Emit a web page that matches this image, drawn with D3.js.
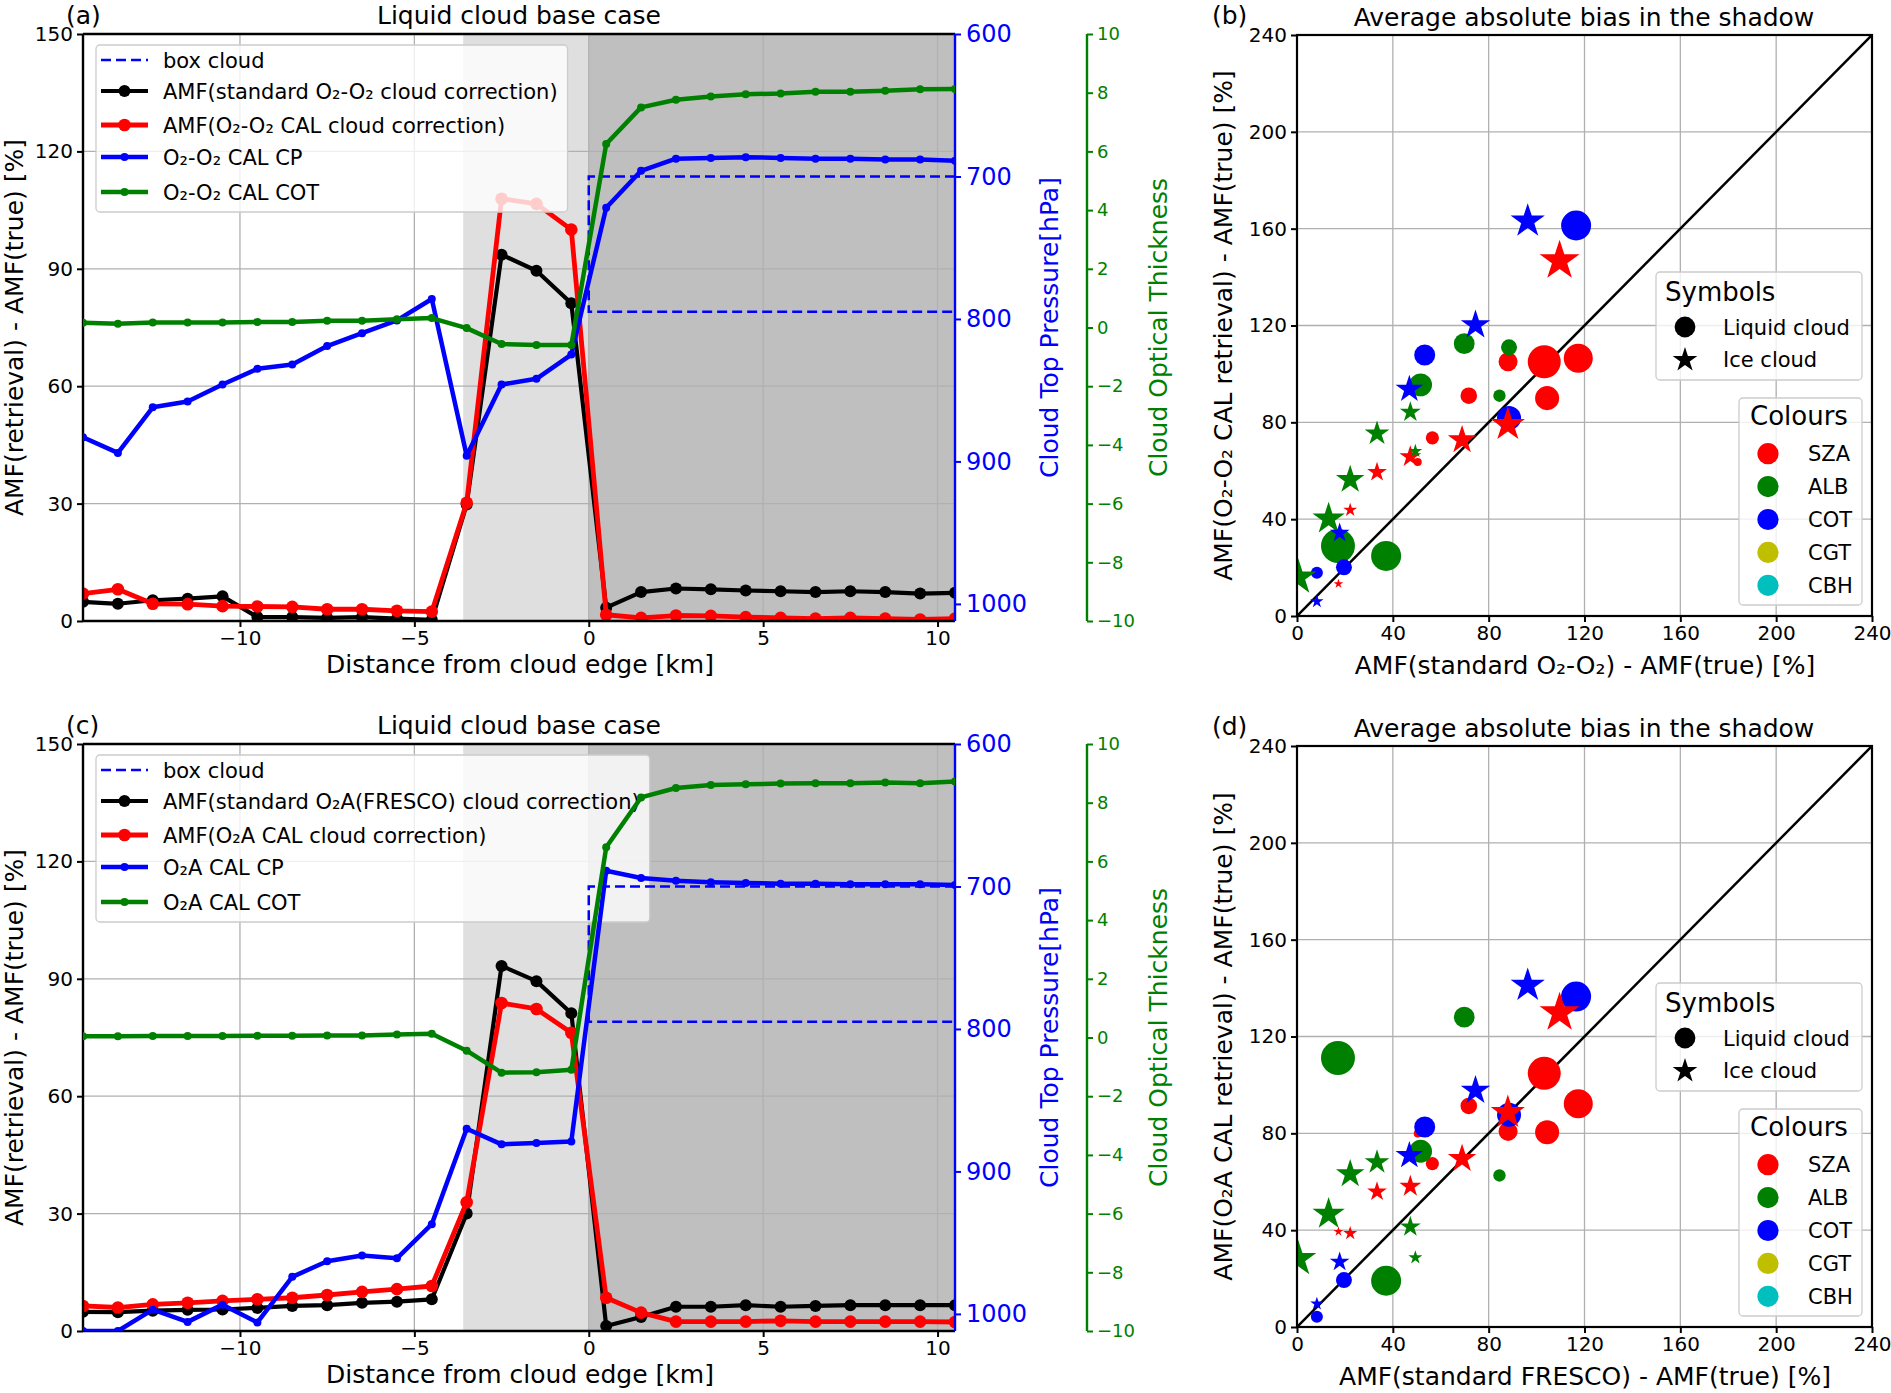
<!DOCTYPE html>
<html>
<head>
<meta charset="utf-8">
<script src="https://cdn.jsdelivr.net/npm/d3@7/dist/d3.min.js"></script>
<style>
  body { margin: 0; background: #fff; }
  text { font-family: "DejaVu Sans", sans-serif; }
</style>
</head>
<body>
<svg id="fig" width="1891" height="1393"></svg>
<script>
// ---------- profile panels (a) and (c) ----------
const dist = [-14.5, -13.5, -12.5, -11.5, -10.5, -9.5, -8.5, -7.5, -6.5, -5.5, -4.5, -3.5, -2.5,
  -1.5, -0.5, 0.5, 1.5, 2.5, 3.5, 4.5, 5.5, 6.5, 7.5, 8.5, 9.5, 10.5];

const shadeLight = [-3.6, 0];
const shadeDark = [0, 10.5];
const boxX = [0, 10.5];
const boxP = [700, 795];

// (a) O2-O2
const stdA = [4.9, 4.4, 5.3, 5.7, 6.3, 1.0, 1.0, 0.8, 1.0, 0.6, 0.3, 29.8, 93.6, 89.5, 81.2,
  3.4, 7.4, 8.3, 8.1, 7.8, 7.6, 7.4, 7.6, 7.4, 7.0, 7.2];
const calA = [7.0, 8.1, 4.4, 4.3, 3.8, 3.7, 3.6, 3.0, 3.0, 2.6, 2.4, 30.2, 107.9, 106.6, 100.0,
  1.6, 0.8, 1.4, 1.3, 1.0, 0.8, 0.6, 0.8, 0.6, 0.4, 0.6];
const cpA = [883, 894, 862, 858, 846, 835, 832, 819, 810, 801, 786, 896, 846, 842, 825,
  722, 696, 687.5, 687, 686.5, 687, 687.5, 687.5, 688, 688, 689];
const cotA = [0.16, 0.13, 0.17, 0.17, 0.17, 0.19, 0.19, 0.23, 0.23, 0.28, 0.32, -0.02, -0.56, -0.6, -0.6,
  6.25, 7.5, 7.76, 7.87, 7.95, 7.97, 8.03, 8.03, 8.07, 8.12, 8.13];

// (c) O2A
const stdC = [4.9, 4.8, 5.2, 5.4, 5.5, 5.9, 6.4, 6.6, 7.2, 7.5, 8.1, 30.0, 93.3, 89.4, 81.2,
  1.3, 3.6, 6.2, 6.2, 6.6, 6.2, 6.4, 6.6, 6.6, 6.6, 6.6];
const calC = [6.4, 6.0, 6.8, 7.2, 7.7, 8.1, 8.5, 9.2, 10.0, 10.7, 11.5, 32.9, 83.8, 82.3, 76.2,
  8.5, 4.7, 2.4, 2.4, 2.4, 2.6, 2.4, 2.4, 2.4, 2.4, 2.3];
const cpC = [1012, 1012, 997, 1005.6, 993.5, 1006, 974, 963, 959, 961, 937, 870, 881, 880, 879,
  689, 694, 696, 697, 697.5, 698, 698, 698.5, 698.5, 698.5, 699];
const cotC = [0.04, 0.04, 0.05, 0.05, 0.05, 0.06, 0.06, 0.07, 0.07, 0.1, 0.13, -0.45, -1.2, -1.18, -1.1,
  6.48, 8.18, 8.5, 8.6, 8.63, 8.65, 8.66, 8.66, 8.69, 8.66, 8.72];

const legendA = ["box cloud", "AMF(standard O₂-O₂ cloud correction)", "AMF(O₂-O₂ CAL cloud correction)",
  "O₂-O₂ CAL CP", "O₂-O₂ CAL COT"];
const legendC = ["box cloud", "AMF(standard O₂A(FRESCO) cloud correction)", "AMF(O₂A CAL cloud correction)",
  "O₂A CAL CP", "O₂A CAL COT"];

const amfTicks = [0, 30, 60, 90, 120, 150];
const distTicks = [-10, -5, 0, 5, 10];
const cpTicks = [600, 700, 800, 900, 1000];
const cotTicks = [10, 8, 6, 4, 2, 0, -2, -4, -6, -8, -10];

// ---------- scatter panels (b) and (d) ----------
// order: liquid (SZA, ALB, COT) then ice (SZA, ALB, COT)
const scatGroup = ["SZA", "SZA", "SZA", "SZA", "SZA", "SZA", "SZA",
  "ALB", "ALB", "ALB", "ALB", "ALB", "ALB",
  "COT", "COT", "COT", "COT", "COT",
  "SZA", "SZA", "SZA", "SZA", "SZA", "SZA", "SZA",
  "ALB", "ALB", "ALB", "ALB", "ALB", "ALB",
  "COT", "COT", "COT", "COT", "COT"];
const scatCloud = ["liquid", "liquid", "liquid", "liquid", "liquid", "liquid", "liquid",
  "liquid", "liquid", "liquid", "liquid", "liquid", "liquid",
  "liquid", "liquid", "liquid", "liquid", "liquid",
  "ice", "ice", "ice", "ice", "ice", "ice", "ice",
  "ice", "ice", "ice", "ice", "ice", "ice",
  "ice", "ice", "ice", "ice", "ice"];
const scatX = [103.2, 117.4, 88.1, 104.4, 71.7, 56.5, 50.4,
  69.8, 88.5, 51.6, 84.5, 17.1, 37.2,
  116.5, 53.3, 88.5, 19.6, 8.3,
  109.6, 88.0, 68.9, 47.3, 33.4, 22.2, 17.3,
  47.3, 33.4, 49.4, 22.2, 13.2, 0.5,
  96.3, 74.5, 46.9, 17.8, 8.3];
const scatYb = [105.0, 106.5, 105.0, 90.0, 91.0, 73.6, 63.6,
  112.5, 111.0, 95.5, 91.0, 28.9, 24.8,
  161.3, 107.8, 81.8, 20.1, 17.9,
  146.7, 79.1, 72.7, 65.8, 59.4, 43.8, 13.3,
  84.2, 75.4, 68.1, 56.3, 40.2, 16.0,
  163.1, 120.2, 93.7, 34.3, 6.0];
const scatYd = [104.8, 92.2, 80.8, 80.4, 91.3, 67.5, 79.9,
  128.0, 88.0, 72.6, 62.6, 111.1, 19.1,
  136.5, 82.6, 87.7, 19.4, 4.2,
  129.8, 88.6, 69.5, 58.1, 55.9, 38.7, 39.4,
  41.4, 68.1, 28.7, 63.2, 46.7, 28.1,
  141.1, 97.7, 70.8, 26.9, 9.6];
const scatSize = [6.17, 4.77, 2.05, 3.27, 1.56, 0.99, 0.36,
  2.45, 1.45, 2.95, 0.87, 6.55, 5.1,
  5.1, 2.5, 3.27, 1.45, 0.82,
  10, 7.35, 5.1, 3.0, 2.45, 1.21, 0.57,
  2.74, 3.83, 1.21, 5.1, 6.55, 8.19,
  7.35, 5.45, 4.77, 2.45, 1.11];

const colourNames = ["SZA", "ALB", "COT", "CGT", "CBH"];
const colourValues = ["#ff0000", "#008000", "#0000ff", "#bfbf00", "#00bfbf"];
const scatTicks = [0, 40, 80, 120, 160, 200, 240];

// ---------- drawing ----------
const svg = d3.select("#fig");
const colour = d3.scaleOrdinal().domain(colourNames).range(colourValues);
const GRID = "#b0b0b0";

function styleAxis(sel, color, size) {
  sel.attr("font-size", null).attr("font-family", null);
  sel.select(".domain").remove();
  sel.selectAll(".tick line").attr("stroke", color).attr("stroke-width", 2);
  sel.selectAll(".tick text").attr("fill", color).style("font-size", size + "px");
}

function vLabel(g, x, y, txt, color) {
  g.append("text")
    .attr("transform", `translate(${x},${y}) rotate(-90)`)
    .attr("text-anchor", "middle")
    .attr("fill", color)
    .style("font-size", "25px")
    .text(txt);
}

function profilePanel(cfg) {
  const top = cfg.top, bottom = cfg.top + 587, left = 83, right = 955;
  const x = d3.scaleLinear().domain([-14.5, 10.5]).range([left, right]);
  const yL = d3.scaleLinear().domain([0, 150]).range([bottom, top]);
  const yP = d3.scaleLinear().domain([600, 1012]).range([top, bottom]);
  const yC = d3.scaleLinear().domain([-10, 10]).range([bottom, top]);

  const g = svg.append("g");
  const clip = "clip-" + cfg.tag;
  g.append("clipPath").attr("id", clip).append("rect")
    .attr("x", left).attr("y", top).attr("width", right - left).attr("height", bottom - top);

  // shadow / cloud shading
  g.append("rect").attr("x", x(shadeLight[0])).attr("y", top)
    .attr("width", x(shadeLight[1]) - x(shadeLight[0])).attr("height", bottom - top)
    .attr("fill", "#dfdfdf");
  g.append("rect").attr("x", x(shadeDark[0])).attr("y", top)
    .attr("width", x(shadeDark[1]) - x(shadeDark[0])).attr("height", bottom - top)
    .attr("fill", "#bfbfbf");

  // grid
  g.selectAll(".gx").data(distTicks).enter().append("line")
    .attr("x1", d => x(d)).attr("x2", d => x(d)).attr("y1", top).attr("y2", bottom)
    .attr("stroke", GRID).attr("stroke-width", 1.3);
  g.selectAll(".gy").data(amfTicks).enter().append("line")
    .attr("x1", left).attr("x2", right).attr("y1", d => yL(d)).attr("y2", d => yL(d))
    .attr("stroke", GRID).attr("stroke-width", 1.3);

  const plot = g.append("g").attr("clip-path", `url(#${clip})`);

  function series(parent, vals, scale, color, lw, r) {
    parent.append("path").datum(vals)
      .attr("d", d3.line().x((d, i) => x(dist[i])).y(d => scale(d)))
      .attr("fill", "none").attr("stroke", color).attr("stroke-width", lw)
      .attr("stroke-linejoin", "round");
    parent.selectAll(null).data(vals).enter().append("circle")
      .attr("cx", (d, i) => x(dist[i])).attr("cy", d => scale(d))
      .attr("r", r).attr("fill", color);
  }

  // main axes: AMF biases
  series(plot, cfg.std, yL, "#000000", 4.2, 6);
  series(plot, cfg.cal, yL, "#ff0000", 4.8, 6.3);

  // left / bottom / top spines and ticks
  g.append("line").attr("x1", left).attr("x2", left).attr("y1", top).attr("y2", bottom)
    .attr("stroke", "#000").attr("stroke-width", 2.4);
  g.append("line").attr("x1", left).attr("x2", right).attr("y1", bottom).attr("y2", bottom)
    .attr("stroke", "#000").attr("stroke-width", 2.4);
  g.append("line").attr("x1", left).attr("x2", right).attr("y1", top).attr("y2", top)
    .attr("stroke", "#000").attr("stroke-width", 2.4);

  const ax = g.append("g").attr("transform", `translate(${left},0)`)
    .call(d3.axisLeft(yL).tickValues(amfTicks).tickSize(6).tickPadding(4));
  styleAxis(ax, "#000", 20);
  const bx = g.append("g").attr("transform", `translate(0,${bottom})`)
    .call(d3.axisBottom(x).tickValues(distTicks).tickSize(6).tickPadding(4).tickFormat(d3.format("d")));
  styleAxis(bx, "#000", 20);

  // legend (on main axes, so it fades the AMF curves below it)
  const lg = g.append("g");
  const rowY = [26, 57, 91, 123, 158].map(d => top + d);
  const box = lg.append("rect").attr("x", 96).attr("y", top + 11).attr("height", 167)
    .attr("rx", 4).attr("fill", "#ffffff").attr("fill-opacity", 0.8)
    .attr("stroke", "#cccccc").attr("stroke-width", 1.3);
  const hx1 = 101, hx2 = 148, tx = 163;
  lg.append("line").attr("x1", hx1).attr("x2", hx2).attr("y1", rowY[0]).attr("y2", rowY[0])
    .attr("stroke", "#0000ff").attr("stroke-width", 2.5).attr("stroke-dasharray", "10,5");
  const handles = [["#000000", 4.2, 6], ["#ff0000", 4.8, 6.3], ["#0000ff", 4.5, 4], ["#008000", 4.5, 4]];
  handles.forEach((h, i) => {
    const yy = rowY[i + 1];
    lg.append("line").attr("x1", hx1).attr("x2", hx2).attr("y1", yy).attr("y2", yy)
      .attr("stroke", h[0]).attr("stroke-width", h[1]);
    lg.append("circle").attr("cx", (hx1 + hx2) / 2).attr("cy", yy).attr("r", h[2]).attr("fill", h[0]);
  });
  let maxEnd = 0;
  cfg.legend.forEach((t, i) => {
    const tt = lg.append("text").attr("x", tx).attr("y", rowY[i] + 7.5)
      .style("font-size", "21px").attr("fill", "#000").text(t);
    maxEnd = Math.max(maxEnd, tx + tt.node().getComputedTextLength());
  });
  box.attr("width", maxEnd + 10 - 96);

  // twin axis 1: cloud top pressure
  const plot2 = g.append("g").attr("clip-path", `url(#${clip})`);
  plot2.append("path")
    .datum([[boxX[1], boxP[0]], [boxX[0], boxP[0]], [boxX[0], boxP[1]], [boxX[1], boxP[1]]])
    .attr("d", d3.line().x(d => x(d[0])).y(d => yP(d[1])))
    .attr("fill", "none").attr("stroke", "#0000ff").attr("stroke-width", 2.5)
    .attr("stroke-dasharray", "10,5");
  series(plot2, cfg.cp, yP, "#0000ff", 4.5, 4);
  g.append("line").attr("x1", right).attr("x2", right).attr("y1", top).attr("y2", bottom)
    .attr("stroke", "#0000ff").attr("stroke-width", 2.4);
  const px = g.append("g").attr("transform", `translate(${right},0)`)
    .call(d3.axisRight(yP).tickValues(cpTicks).tickSize(6).tickPadding(5).tickFormat(d3.format("d")));
  styleAxis(px, "#0000ff", 24);

  // twin axis 2: cloud optical thickness
  const plot3 = g.append("g").attr("clip-path", `url(#${clip})`);
  series(plot3, cfg.cot, yC, "#008000", 4.5, 4);
  const gx = 1087;
  g.append("line").attr("x1", gx).attr("x2", gx).attr("y1", top).attr("y2", bottom)
    .attr("stroke", "#008000").attr("stroke-width", 2.4);
  const cx = g.append("g").attr("transform", `translate(${gx},0)`)
    .call(d3.axisRight(yC).tickValues(cotTicks).tickSize(6).tickPadding(4).tickFormat(d3.format("d")));
  styleAxis(cx, "#008000", 18);

  // labels
  const mid = (top + bottom) / 2;
  vLabel(g, 23, mid, "AMF(retrieval) - AMF(true) [%]", "#000");
  vLabel(g, 1058, mid, "Cloud Top Pressure[hPa]", "#0000ff");
  vLabel(g, 1167, mid, "Cloud Optical Thickness", "#008000");
  g.append("text").attr("x", 520).attr("y", bottom + 52).attr("text-anchor", "middle")
    .style("font-size", "25px").text("Distance from cloud edge [km]");
  g.append("text").attr("x", 519).attr("y", top - 10).attr("text-anchor", "middle")
    .style("font-size", "25px").text("Liquid cloud base case");
  g.append("text").attr("x", 66).attr("y", top - 10)
    .style("font-size", "25px").text(cfg.panel);
}

function scatterPanel(cfg) {
  const top = cfg.top, bottom = cfg.top + 581, left = 1297, right = 1872;
  const x = d3.scaleLinear().domain([0, 240]).range([left, right]);
  const y = d3.scaleLinear().domain([0, 240]).range([bottom, top]);
  const rScale = d3.scaleSqrt().domain([0, 10]).range([0, 21]);

  const g = svg.append("g");
  const clip = "clip-" + cfg.tag;
  g.append("clipPath").attr("id", clip).append("rect")
    .attr("x", left).attr("y", top).attr("width", right - left).attr("height", bottom - top);

  g.selectAll(".gx").data(scatTicks).enter().append("line")
    .attr("x1", d => x(d)).attr("x2", d => x(d)).attr("y1", top).attr("y2", bottom)
    .attr("stroke", GRID).attr("stroke-width", 1.3);
  g.selectAll(".gy").data(scatTicks).enter().append("line")
    .attr("x1", left).attr("x2", right).attr("y1", d => y(d)).attr("y2", d => y(d))
    .attr("stroke", GRID).attr("stroke-width", 1.3);

  const plot = g.append("g").attr("clip-path", `url(#${clip})`);
  plot.append("line").attr("x1", x(0)).attr("y1", y(0)).attr("x2", x(240)).attr("y2", y(240))
    .attr("stroke", "#000").attr("stroke-width", 2.5);

  const pts = scatX.map((v, i) => ({
    x: v, y: cfg.yv[i], size: scatSize[i], group: scatGroup[i], cloud: scatCloud[i]
  }));
  pts.forEach(p => {
    const r = rScale(p.size);
    if (p.cloud === "liquid") {
      plot.append("circle").attr("cx", x(p.x)).attr("cy", y(p.y)).attr("r", r)
        .attr("fill", colour(p.group));
    } else {
      plot.append("path")
        .attr("d", d3.symbol(d3.symbolStar, r * r / 0.8908130915292852)())
        .attr("transform", `translate(${x(p.x)},${y(p.y)})`)
        .attr("fill", colour(p.group));
    }
  });

  g.append("rect").attr("x", left).attr("y", top).attr("width", right - left).attr("height", bottom - top)
    .attr("fill", "none").attr("stroke", "#000").attr("stroke-width", 2.2);

  const ax = g.append("g").attr("transform", `translate(${left},0)`)
    .call(d3.axisLeft(y).tickValues(scatTicks).tickSize(6).tickPadding(4));
  styleAxis(ax, "#000", 20);
  const bx = g.append("g").attr("transform", `translate(0,${bottom})`)
    .call(d3.axisBottom(x).tickValues(scatTicks).tickSize(6).tickPadding(4));
  styleAxis(bx, "#000", 20);

  // Symbols legend
  const s = g.append("g");
  s.append("rect").attr("x", 1656).attr("y", top + 237).attr("width", 206).attr("height", 108)
    .attr("rx", 4).attr("fill", "#fff").attr("fill-opacity", 0.8)
    .attr("stroke", "#cccccc").attr("stroke-width", 1.3);
  s.append("text").attr("x", 1665).attr("y", top + 266).style("font-size", "26px").text("Symbols");
  s.append("circle").attr("cx", 1685).attr("cy", top + 292).attr("r", 10.4).attr("fill", "#000");
  s.append("path").attr("d", d3.symbol(d3.symbolStar, 13 * 13 / 0.8908130915292852)())
    .attr("transform", `translate(1685,${top + 325})`).attr("fill", "#000");
  s.append("text").attr("x", 1723).attr("y", top + 300).style("font-size", "21px").text("Liquid cloud");
  s.append("text").attr("x", 1723).attr("y", top + 332).style("font-size", "21px").text("Ice cloud");

  // Colours legend
  const c = g.append("g");
  c.append("rect").attr("x", 1739).attr("y", top + 363).attr("width", 123).attr("height", 207)
    .attr("rx", 4).attr("fill", "#fff").attr("fill-opacity", 0.8)
    .attr("stroke", "#cccccc").attr("stroke-width", 1.3);
  c.append("text").attr("x", 1750).attr("y", top + 390).style("font-size", "26px").text("Colours");
  colourNames.forEach((nm, i) => {
    const yy = top + 418.7 + i * 32.9;
    c.append("circle").attr("cx", 1768).attr("cy", yy).attr("r", 10.6).attr("fill", colour(nm));
    c.append("text").attr("x", 1808).attr("y", yy + 7.5).style("font-size", "21px").text(nm);
  });

  const mid = (top + bottom) / 2;
  vLabel(g, 1232, mid, cfg.ylabel, "#000");
  g.append("text").attr("x", 1585).attr("y", bottom + 58).attr("text-anchor", "middle")
    .style("font-size", "25px").text(cfg.xlabel);
  g.append("text").attr("x", 1584).attr("y", top - 9).attr("text-anchor", "middle")
    .style("font-size", "25px").text("Average absolute bias in the shadow");
  // panel letter kept just left of the top tick label so the two do not collide
  g.append("text").attr("x", 1212).attr("y", top - 11).style("font-size", "25px").text(cfg.panel);
}

profilePanel({ tag: "a", panel: "(a)", top: 34, std: stdA, cal: calA, cp: cpA, cot: cotA, legend: legendA });
profilePanel({ tag: "c", panel: "(c)", top: 744, std: stdC, cal: calC, cp: cpC, cot: cotC, legend: legendC });
scatterPanel({ tag: "b", panel: "(b)", top: 35, yv: scatYb,
  xlabel: "AMF(standard O₂-O₂) - AMF(true) [%]", ylabel: "AMF(O₂-O₂ CAL retrieval) - AMF(true) [%]" });
scatterPanel({ tag: "d", panel: "(d)", top: 746, yv: scatYd,
  xlabel: "AMF(standard FRESCO) - AMF(true) [%]", ylabel: "AMF(O₂A CAL retrieval) - AMF(true) [%]" });
</script>
</body>
</html>
